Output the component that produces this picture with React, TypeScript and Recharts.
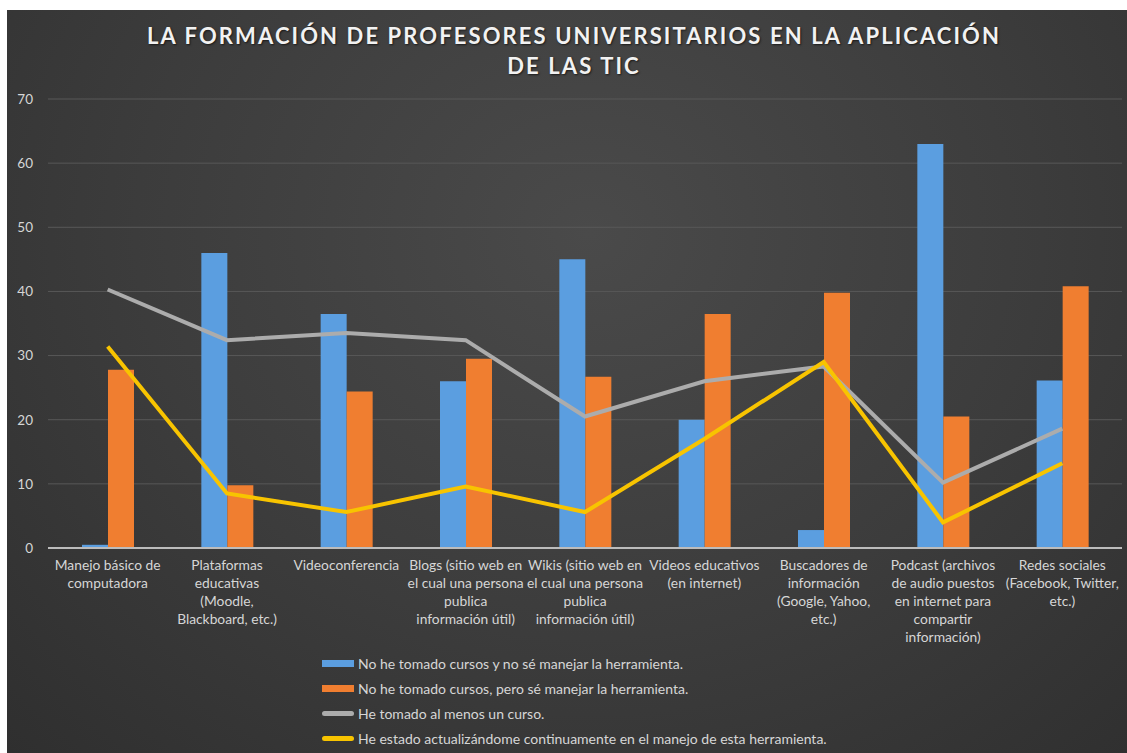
import { ComposedChart, Bar, Line, XAxis, YAxis, CartesianGrid } from "recharts"

const categories = [
  "Manejo básico de computadora",
  "Plataformas educativas (Moodle, Blackboard, etc.)",
  "Videoconferencia",
  "Blogs (sitio web en el cual una persona publica información útil)",
  "Wikis (sitio web en el cual una persona publica información útil)",
  "Videos educativos (en internet)",
  "Buscadores de información (Google, Yahoo, etc.)",
  "Podcast (archivos de audio puestos en internet para compartir información)",
  "Redes sociales (Facebook, Twitter, etc.)",
]

// wrapped the way the original axis shows them
const tickLabels = [
  ["Manejo básico de", "computadora"],
  ["Plataformas", "educativas", "(Moodle,", "Blackboard, etc.)"],
  ["Videoconferencia"],
  ["Blogs (sitio web en", "el cual una persona", "publica", "información útil)"],
  ["Wikis (sitio web en", "el cual una persona", "publica", "información útil)"],
  ["Videos educativos", "(en internet)"],
  ["Buscadores de", "información", "(Google, Yahoo,", "etc.)"],
  ["Podcast (archivos", "de audio puestos", "en internet para", "compartir", "información)"],
  ["Redes sociales", "(Facebook, Twitter,", "etc.)"],
]

const noCursoNoSe = [0.5, 46, 36.5, 26, 45, 20, 2.8, 63, 26.1]
const noCursoSiSe = [27.8, 9.8, 24.4, 29.5, 26.7, 36.5, 39.8, 20.5, 40.8]
const unCurso = [40.3, 32.4, 33.5, 32.4, 20.5, 26, 28.3, 10.2, 18.6]
const actualizado = [31.4, 8.5, 5.6, 9.6, 5.6, 17, 29, 4, 13.2]

const yTicks = [0, 10, 20, 30, 40, 50, 60, 70]

const SERIES = [
  { key: "a", name: "No he tomado cursos y no sé manejar la herramienta.", color: "#5b9ee0", kind: "bar" },
  { key: "b", name: "No he tomado cursos, pero sé manejar la herramienta.", color: "#f07e30", kind: "bar" },
  { key: "c", name: "He tomado al menos un curso.", color: "#acacac", kind: "line" },
  { key: "d", name: "He estado actualizándome continuamente en el manejo de esta herramienta.", color: "#f8c400", kind: "line" },
]

const data = categories.map((name, i) => ({
  name,
  a: noCursoNoSe[i],
  b: noCursoSiSe[i],
  c: unCurso[i],
  d: actualizado[i],
}))

const FONT = "Lato, 'Open Sans', sans-serif"
const TEXT = "#d6d6d6"

function CategoryTick(props: any) {
  const { x, y, index } = props
  const lines = tickLabels[index] ?? []
  return (
    <text x={x} y={y + 22} textAnchor="middle" fill={TEXT} fontSize={13.8} fontFamily={FONT}>
      {lines.map((l, i) => (
        <tspan key={i} x={x} dy={i === 0 ? 0 : 18}>
          {l}
        </tspan>
      ))}
    </text>
  )
}

function LegendBlock() {
  return (
    <div style={{ position: "absolute", left: 315, top: 641 }}>
      {SERIES.map((s) => (
        <div key={s.key} style={{ display: "flex", alignItems: "center", height: 25 }}>
          {s.kind === "bar" ? (
            <span style={{ width: 32, height: 7, background: s.color, display: "inline-block" }} />
          ) : (
            <span style={{ width: 32, height: 5, background: s.color, borderRadius: 3, display: "inline-block" }} />
          )}
          <span style={{ marginLeft: 4, color: TEXT, fontSize: 14, fontFamily: FONT }}>{s.name}</span>
        </div>
      ))}
    </div>
  )
}

export default function App() {
  return (
    <div style={{ position: "relative", width: 1127, height: 753, background: "#fff", overflow: "hidden" }}>
      <style>{"body{margin:0}"}</style>
      <div
        style={{
          position: "absolute",
          left: 7,
          top: 10,
          width: 1120,
          height: 743,
          background: "radial-gradient(ellipse at 52% 30%, #4a4a4a 0%, #3c3c3c 55%, #2f2f2f 100%)",
        }}
      >
        <div
          style={{
            position: "absolute",
            left: 0,
            top: 11,
            width: 1134,
            textAlign: "center",
            color: "#f2f2f2",
            fontFamily: FONT,
            fontWeight: 700,
            fontSize: 22,
            letterSpacing: 2.1,
            lineHeight: "30px",
            textShadow: "1px 1px 2px rgba(0,0,0,0.6)",
          }}
        >
          LA FORMACIÓN DE PROFESORES UNIVERSITARIOS EN LA APLICACIÓN
          <br />
          DE LAS TIC
        </div>
        <div style={{ position: "absolute", left: 0, top: 0 }}>
          <ComposedChart
            width={1120}
            height={743}
            data={data}
            margin={{ top: 89, right: 5, bottom: 105, left: 0 }}
            barGap={0}
            barSize={26}
          >
            <CartesianGrid vertical={false} stroke="#585858" strokeWidth={1} />
            <XAxis
              dataKey="name"
              interval={0}
              height={100}
              tickLine={false}
              tickSize={0}
              tickMargin={0}
              axisLine={{ stroke: "#bcbcbc", strokeWidth: 2 }}
              tick={<CategoryTick />}
            />
            <YAxis
              domain={[0, 70]}
              ticks={yTicks}
              width={41}
              axisLine={false}
              tickLine={false}
              tickSize={0}
              tickMargin={15}
              tick={{ fill: TEXT, fontSize: 13.5, fontFamily: FONT }}
            />
            <Bar dataKey="a" name={SERIES[0].name} fill={SERIES[0].color} isAnimationActive={false} />
            <Bar dataKey="b" name={SERIES[1].name} fill={SERIES[1].color} isAnimationActive={false} />
            <Line
              dataKey="c"
              name={SERIES[2].name}
              stroke={SERIES[2].color}
              strokeWidth={4}
              dot={false}
              type="linear"
              isAnimationActive={false}
            />
            <Line
              dataKey="d"
              name={SERIES[3].name}
              stroke={SERIES[3].color}
              strokeWidth={4}
              dot={false}
              type="linear"
              isAnimationActive={false}
            />
          </ComposedChart>
        </div>
        <LegendBlock />
      </div>
    </div>
  )
}
